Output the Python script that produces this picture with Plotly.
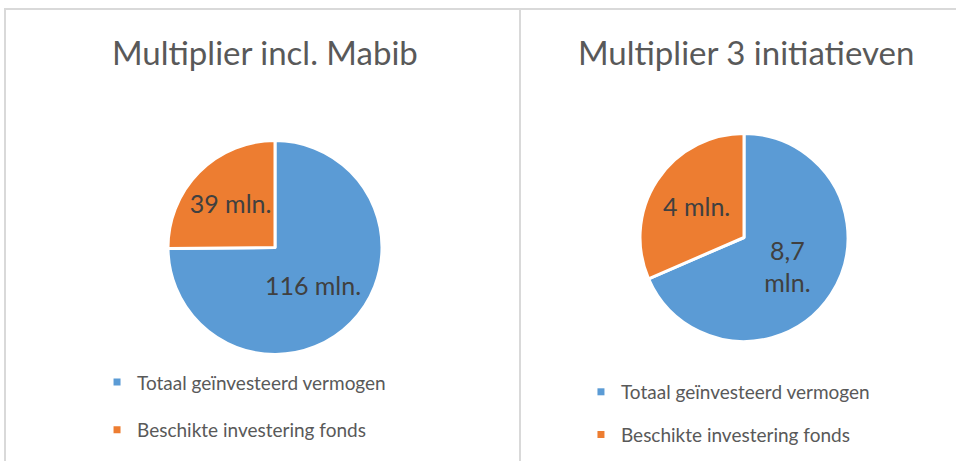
import plotly.graph_objects as go

# data
categories = ["Totaal geïnvesteerd vermogen", "Beschikte investering fonds"]
titles = ["Multiplier incl. Mabib", "Multiplier 3 initiatieven"]
values_mabib = [116, 39]
labels_mabib = ["116 mln.", "39 mln."]
values_init = [8.7, 4]
labels_init = ["8,7<br>mln.", "4 mln."]

colors = ["#5B9BD5", "#ED7D31"]
FONT = "Lato, 'Open Sans', sans-serif"
W, H = 956, 461

fig = go.Figure()

pies = [
    (values_mabib, labels_mabib, [168 / W, 382 / W], [1 - 355 / H, 1 - 140 / H]),
    (values_init, labels_init, [640 / W, 848 / W], [1 - 342 / H, 1 - 133 / H]),
]
for values, texts, dx, dy in pies:
    fig.add_trace(go.Pie(
        labels=categories, values=values, text=texts,
        texttemplate="%{text}", textposition="inside",
        insidetextorientation="horizontal",
        textfont=dict(size=25, color="#404040", family=FONT),
        marker=dict(colors=colors, line=dict(color="white", width=3)),
        sort=False, direction="clockwise", rotation=0,
        domain=dict(x=dx, y=dy), showlegend=False, hoverinfo="label+value",
    ))

# legends drawn from square-marker entries, one group per item for spacing
for legend_id in ["legend", "legend2"]:
    for cat, col in zip(categories, colors):
        fig.add_trace(go.Scatter(
            x=[None], y=[None], mode="markers", name=cat,
            marker=dict(symbol="square", size=7, color=col),
            legend=legend_id, legendgroup=legend_id + cat,
        ))

legend_style = dict(
    font=dict(size=19, color="#595959", family=FONT),
    bgcolor="rgba(0,0,0,0)",
    xanchor="left", yanchor="top", itemwidth=30,
)

title_font = dict(size=33, color="#595959", family=FONT)

fig.update_layout(
    width=W, height=H,
    margin=dict(l=0, r=0, t=0, b=0),
    paper_bgcolor="white", plot_bgcolor="white",
    xaxis=dict(visible=False), yaxis=dict(visible=False),
    legend=dict(x=0.1015, y=0.212, tracegroupgap=20, **legend_style),
    legend2=dict(x=0.6077, y=0.191, tracegroupgap=15, **legend_style),
    annotations=[
        dict(text=titles[0], x=265 / W, y=1 - 52 / H, xref="paper", yref="paper",
             xanchor="center", yanchor="middle", showarrow=False, font=title_font),
        dict(text=titles[1], x=746 / W, y=1 - 52 / H, xref="paper", yref="paper",
             xanchor="center", yanchor="middle", showarrow=False, font=title_font),
    ],
    shapes=[
        dict(type="rect", xref="paper", yref="paper", x0=5 / W, x1=1.01, y0=-0.01,
             y1=1 - 9 / H, line=dict(color="#D9D9D9", width=2)),
        dict(type="line", xref="paper", yref="paper", x0=520 / W, x1=520 / W,
             y0=-0.01, y1=1 - 9 / H, line=dict(color="#D9D9D9", width=2)),
    ],
)

# drop the default page margin so the figure fills the window
fig.write_html("out.html", config={"displayModeBar": False},
               post_script="document.body.style.margin='0';")
